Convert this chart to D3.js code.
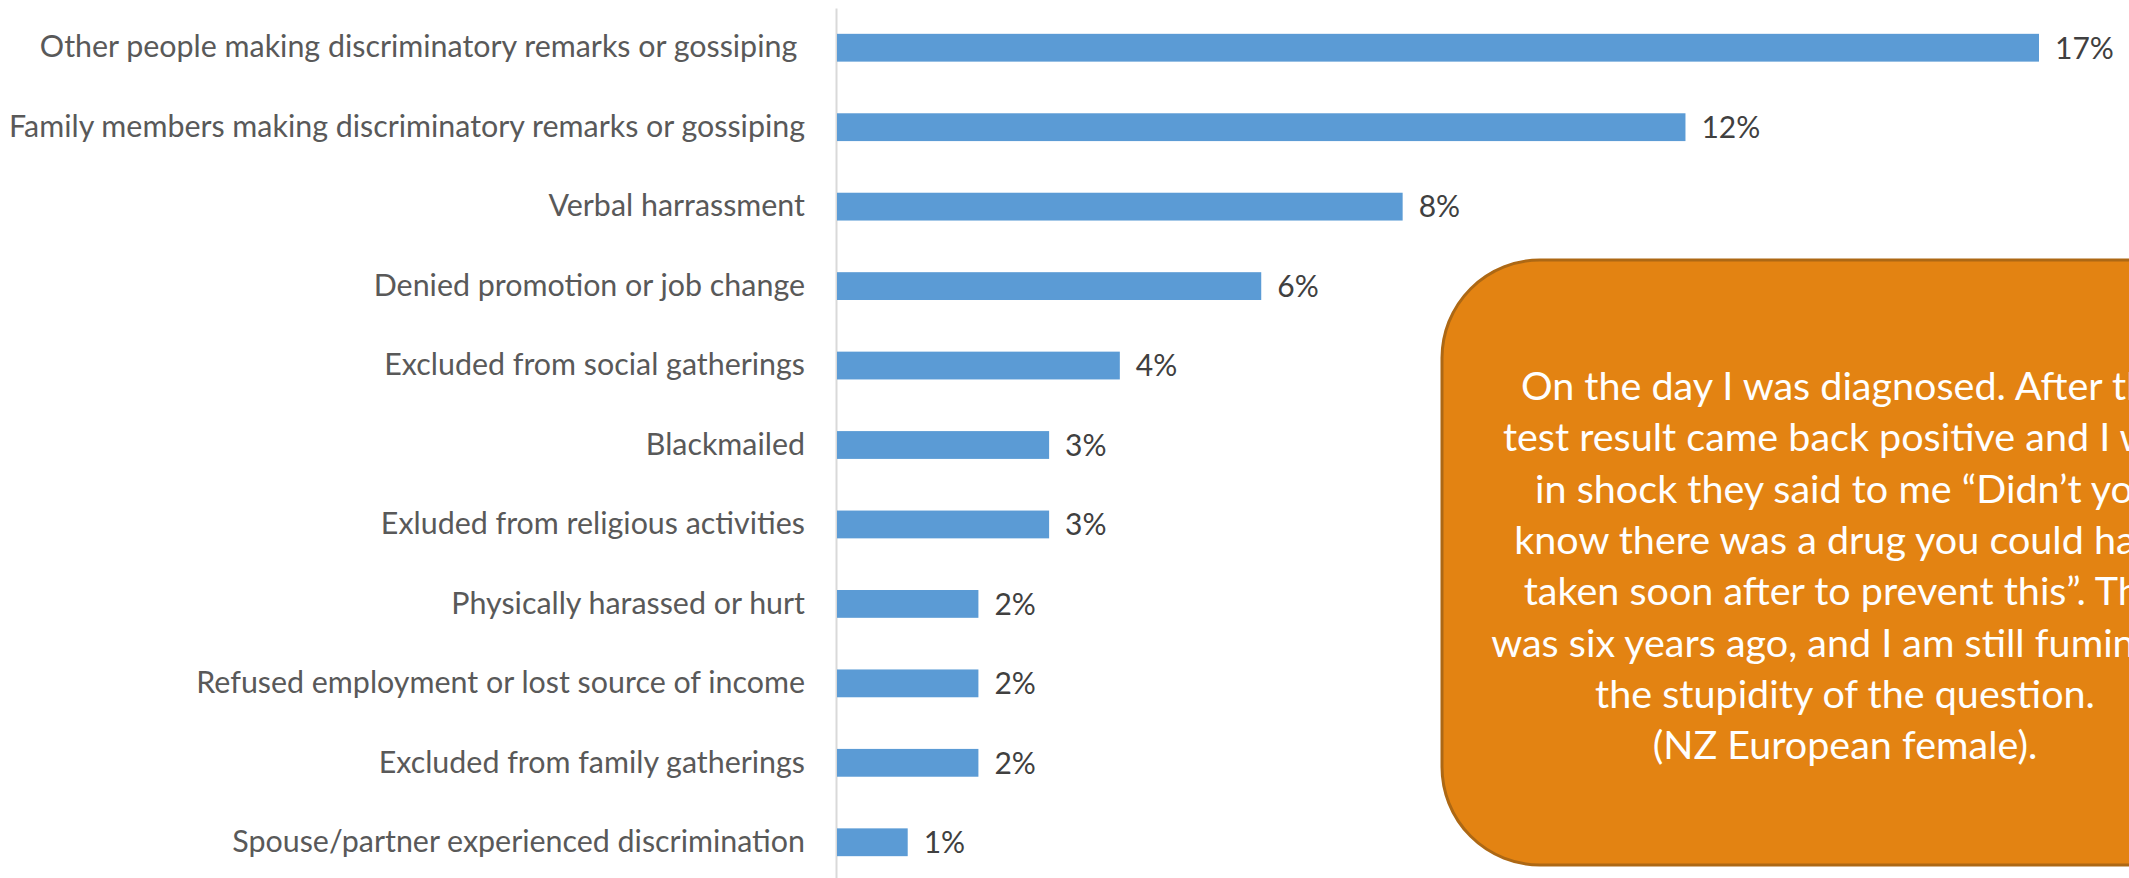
<!DOCTYPE html>
<html>
<head>
<meta charset="utf-8">
<script src="https://cdn.jsdelivr.net/npm/d3@7"></script>
<style>
  body { margin: 0; background: #fff; }
  svg { display: block; }
</style>
</head>
<body>
<svg id="chart" width="2129" height="878"></svg>
<script>
const categories = [
  "Other people making discriminatory remarks or gossiping ",
  "Family members making discriminatory remarks or gossiping",
  "Verbal harrassment",
  "Denied promotion or job change",
  "Excluded from social gatherings",
  "Blackmailed",
  "Exluded from religious activities",
  "Physically harassed or hurt",
  "Refused employment or lost source of income",
  "Excluded from family gatherings",
  "Spouse/partner experienced discrimination"
];
const values = [17, 12, 8, 6, 4, 3, 3, 2, 2, 2, 1];
const quoteLines = [
  "On the day I was diagnosed. After the",
  "test result came back positive and I was",
  "in shock they said to me \u201cDidn\u2019t you",
  "know there was a drug you could have",
  "taken soon after to prevent this\u201d. This",
  "was six years ago, and I am still fuming at",
  "the stupidity of the question.",
  "(NZ European female)."
];

const svg = d3.select("#chart");
const data = categories.map((c, i) => ({ cat: c, val: values[i] }));

const x = d3.scaleLinear().domain([0, 17]).range([837, 2039]);
const y = d3.scaleBand()
    .domain(categories)
    .range([8, 882])
    .paddingInner(0.65)
    .paddingOuter(0.325);

const yAxis = svg.append("g")
    .attr("transform", `translate(${x(0) - 1},0)`)
    .call(d3.axisLeft(y).tickSize(0).tickPadding(31));
yAxis.select(".domain").attr("stroke", "#d9d9d9").attr("stroke-width", 2);
yAxis.selectAll("text")
    .attr("fill", "#595959")
    .style("font-family", "Lato")
    .style("font-weight", 400)
    .style("font-size", "30.4px")
    .style("white-space", "pre");

svg.selectAll(".bar")
    .data(data)
    .enter()
    .append("rect")
    .attr("class", "bar")
    .attr("x", x(0))
    .attr("y", d => y(d.cat))
    .attr("width", d => x(d.val) - x(0))
    .attr("height", y.bandwidth())
    .attr("fill", "#5b9bd5");

svg.selectAll(".val")
    .data(data)
    .enter()
    .append("text")
    .attr("class", "val")
    .attr("x", d => x(d.val) + 16)
    .attr("y", d => y(d.cat) + y.bandwidth() / 2)
    .attr("dy", "0.36em")
    .attr("fill", "#404040")
    .style("font-family", "Lato")
    .style("font-size", "30px")
    .text(d => d.val + "%");

// callout box, runs off the right edge
const box = { left: 1442, top: 260, right: 2248, bottom: 865 };
svg.append("rect")
    .attr("x", box.left)
    .attr("y", box.top)
    .attr("width", box.right - box.left)
    .attr("height", box.bottom - box.top)
    .attr("rx", 98)
    .attr("fill", "#e38312")
    .attr("stroke", "#ad6814")
    .attr("stroke-width", 3);

const cx = (box.left + box.right) / 2;
svg.append("text")
    .attr("fill", "#fff")
    .attr("text-anchor", "middle")
    .style("font-family", "Lato")
    .style("font-size", "39.5px")
    .selectAll("tspan")
    .data(quoteLines)
    .enter()
    .append("tspan")
    .attr("x", cx)
    .attr("y", (d, i) => 400 + i * 51.3)
    .text(d => d);
</script>
</body>
</html>
